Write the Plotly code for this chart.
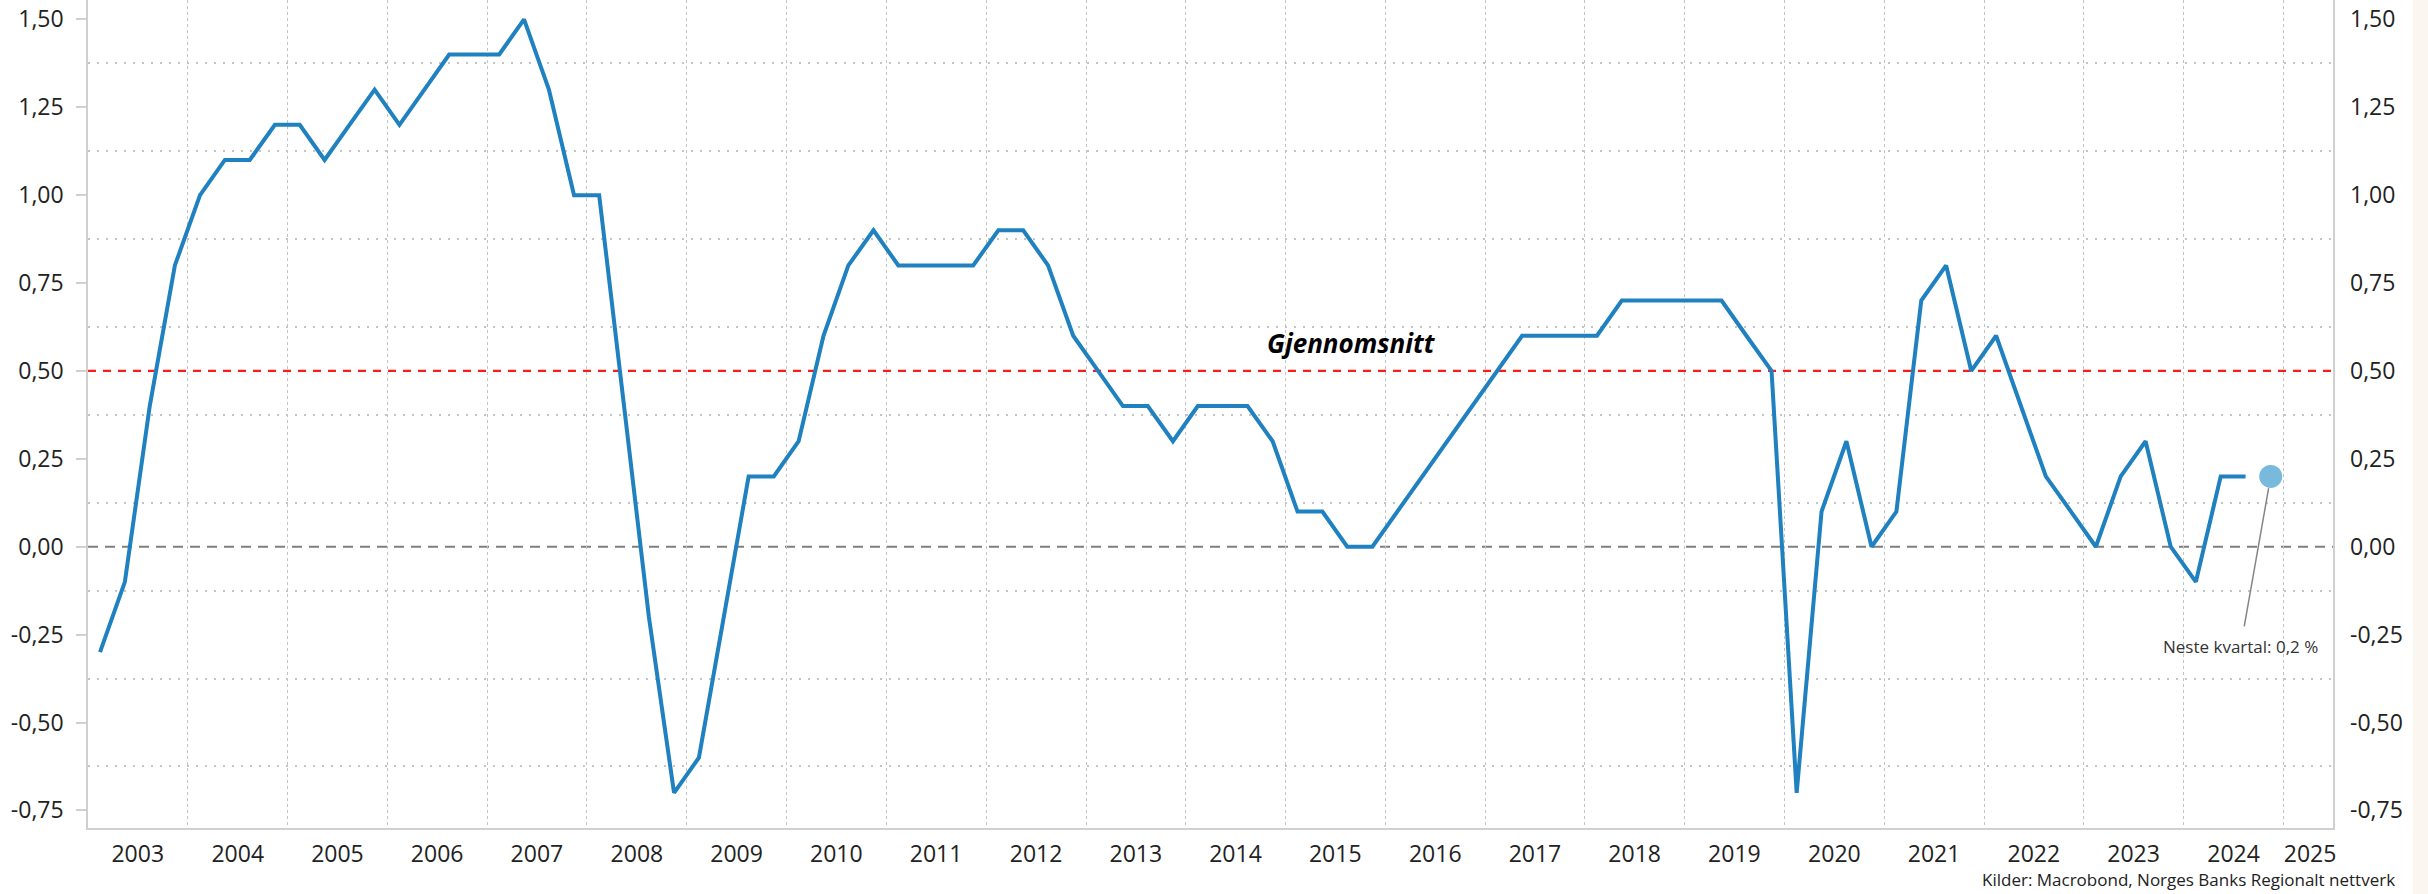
import pandas as pd
import plotly.graph_objects as go

# Quarterly indicator, 2003Q1 - 2024Q3 (percent)
first_quarter = "2003Q1"
last_quarter = "2024Q3"
values = [
    -0.3, -0.1, 0.4, 0.8,   # 2003
    1.0, 1.1, 1.1, 1.2,     # 2004
    1.2, 1.1, 1.2, 1.3,     # 2005
    1.2, 1.3, 1.4, 1.4,     # 2006
    1.4, 1.5, 1.3, 1.0,     # 2007
    1.0, 0.4, -0.2, -0.7,   # 2008
    -0.6, -0.2, 0.2, 0.2,   # 2009
    0.3, 0.6, 0.8, 0.9,     # 2010
    0.8, 0.8, 0.8, 0.8,     # 2011
    0.9, 0.9, 0.8, 0.6,     # 2012
    0.5, 0.4, 0.4, 0.3,     # 2013
    0.4, 0.4, 0.4, 0.3,     # 2014
    0.1, 0.1, 0.0, 0.0,     # 2015
    0.1, 0.2, 0.3, 0.4,     # 2016
    0.5, 0.6, 0.6, 0.6,     # 2017
    0.6, 0.7, 0.7, 0.7,     # 2018
    0.7, 0.7, 0.6, 0.5,     # 2019
    -0.7, 0.1, 0.3, 0.0,    # 2020
    0.1, 0.7, 0.8, 0.5,     # 2021
    0.6, 0.4, 0.2, 0.1,     # 2022
    0.0, 0.2, 0.3, 0.0,     # 2023
    -0.1, 0.2, 0.2,         # 2024
]
next_quarter = "2024Q4"
next_value = 0.2
average_value = 0.5

year_labels = [str(y) for y in range(2003, 2026)]
year_label_dates = [f"{y}-07-02" for y in range(2003, 2025)] + ["2025-04-08"]
year_starts = [f"{y}-01-01" for y in range(2003, 2026)]

y_tick_vals = [-0.75, -0.5, -0.25, 0.0, 0.25, 0.5, 0.75, 1.0, 1.25, 1.5]
y_tick_text = ["-0,75", "-0,50", "-0,25", "0,00", "0,25", "0,50", "0,75", "1,00", "1,25", "1,50"]
y_grid_vals = [-0.625, -0.375, -0.125, 0.125, 0.375, 0.625, 0.875, 1.125, 1.375]

avg_label = "Gjennomsnitt"
next_label = "Neste kvartal: 0,2 %"
source_text = "Kilder: Macrobond, Norges Banks Regionalt nettverk"


def mid_quarter(p):
    return (p.start_time + (p.end_time - p.start_time) / 2).normalize()


quarters = pd.period_range(first_quarter, last_quarter, freq="Q")
dates = [mid_quarter(q) for q in quarters]
next_date = mid_quarter(pd.Period(next_quarter, freq="Q"))

FONT = "Open Sans"
LINE_BLUE = "#1f81bf"
GRID = "#c4c4c4"
AXIS = "#d0d0d0"
TICK_SIZE = 23

fig = go.Figure()
fig.add_trace(go.Scatter(
    x=dates, y=values, mode="lines",
    line=dict(color=LINE_BLUE, width=4),
    showlegend=False, hoverinfo="x+y",
))
fig.add_trace(go.Scatter(
    x=[next_date], y=[next_value], mode="markers",
    marker=dict(color="#79b9db", size=23, line=dict(width=0)),
    showlegend=False,
))
# carrier trace for the right-hand axis
fig.add_trace(go.Scatter(
    x=dates, y=values, yaxis="y2", mode="lines",
    line=dict(width=0, color="rgba(0,0,0,0)"),
    showlegend=False, hoverinfo="skip",
))

# reference lines
fig.add_shape(type="line", xref="paper", x0=0, x1=1, yref="y", y0=0, y1=0,
              line=dict(color="#7f7f7f", width=2, dash="10px,7px"), layer="below")
fig.add_shape(type="line", xref="paper", x0=0, x1=1, yref="y", y0=average_value, y1=average_value,
              line=dict(color="#ff1a1a", width=2.2, dash="8px,7px"), layer="below")
# faint strip at the right edge of the picture
fig.add_shape(type="rect", xref="paper", x0=1.0356, x1=1.06, yref="paper", y0=-0.1, y1=1.01,
              fillcolor="#fcf6f1", line=dict(width=0), layer="below")

fig.add_annotation(x="2015-08-29", y=0.58, xref="x", yref="y", text=f"<i><b>{avg_label}</b></i>",
                   showarrow=False, font=dict(family=FONT, size=26, color="#000000"))
fig.add_annotation(x=next_date, y=next_value, xref="x", yref="y", text=next_label,
                   showarrow=True, arrowhead=0, arrowwidth=1.5, arrowcolor="#858585",
                   ax=-30, ay=170, standoff=12, borderpad=8,
                   font=dict(family=FONT, size=17, color="#333333"))
fig.add_annotation(x=1.0285, y=-0.062, xref="paper", yref="paper", xanchor="right", yanchor="middle",
                   text=source_text, showarrow=False,
                   font=dict(family=FONT, size=17, color="#222222"))

fig.update_layout(
    width=2428, height=894,
    margin=dict(l=88, r=95, t=0, b=66),
    paper_bgcolor="white", plot_bgcolor="white",
    font=dict(family=FONT, size=TICK_SIZE, color="#222222"),
    showlegend=False,
    xaxis=dict(
        type="date", range=["2003-01-01", "2025-07-01"],
        tickmode="array", tickvals=year_label_dates, ticktext=year_labels,
        ticks="", showgrid=False, showline=True, linecolor=AXIS, linewidth=1.5,
        zeroline=False, ticklabelstandoff=5,
        tickfont=dict(family=FONT, size=TICK_SIZE, color="#222222"),
        minor=dict(tickmode="array", tickvals=year_starts, showgrid=True,
                   gridcolor=GRID, griddash="3px,3px", gridwidth=1, ticks=""),
    ),
    yaxis=dict(
        range=[-0.8, 1.555],
        tickmode="array", tickvals=y_tick_vals, ticktext=y_tick_text,
        ticks="outside", ticklen=10, tickcolor=AXIS, tickwidth=1.5,
        showgrid=False, zeroline=False,
        showline=True, linecolor=AXIS, linewidth=1.5, mirror=True,
        ticklabelstandoff=8,
        tickfont=dict(family=FONT, size=TICK_SIZE, color="#222222"),
        minor=dict(tickmode="array", tickvals=y_grid_vals, showgrid=True,
                   gridcolor=GRID, griddash="2px,7px", gridwidth=2, ticks=""),
    ),
    yaxis2=dict(
        overlaying="y", side="right", matches="y",
        tickmode="array", tickvals=y_tick_vals, ticktext=y_tick_text,
        ticks="", showgrid=False, zeroline=False, showline=False,
        ticklabelstandoff=16,
        tickfont=dict(family=FONT, size=TICK_SIZE, color="#222222"),
    ),
)

fig.write_html(
    "out.html",
    config={"displayModeBar": False},
    post_script="document.body.style.margin='0';document.body.style.overflow='hidden';",
)
